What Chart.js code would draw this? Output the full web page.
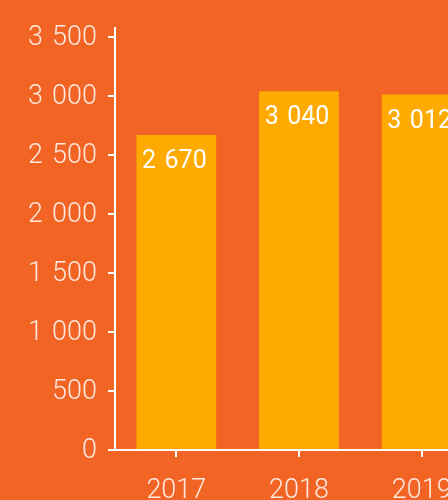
<!DOCTYPE html>
<html lang="en">
<head>
    <meta charset="UTF-8">
    <title>Bars</title>
    <script src="https://cdn.jsdelivr.net/npm/chart.js"></script>
    <style>
        body {
            margin: 0;
            padding: 0;
            background-color: #f26424;
            overflow: hidden;
        }
        #wrap {
            width: 483px;
            height: 500px;
            position: relative;
        }
    </style>
</head>
<body>
    <div id="wrap"><canvas id="grafico"></canvas></div>

    <script>
        const anos = ['2017', '2018', '2019'];
        const valores = [2670, 3040, 3012];
        const yTicks = [0, 500, 1000, 1500, 2000, 2500, 3000, 3500];
        const yMax = 3576;

        // separador de milhar: espaço de 1/3 em
        function espacos(n) {
            return String(n).replace(/\B(?=(\d{3})+(?!\d))/g, '\u2004');
        }

        // rótulos dentro do topo de cada barra
        const rotulos = {
            id: 'rotulos',
            afterDatasetsDraw(chart) {
                const ctx = chart.ctx;
                const meta = chart.getDatasetMeta(0);
                ctx.save();
                ctx.fillStyle = '#ffffff';
                ctx.font = '25px Roboto';
                ctx.textAlign = 'center';
                ctx.textBaseline = 'alphabetic';
                meta.data.forEach((bar, i) => {
                    ctx.fillText(espacos(valores[i]), bar.x - 2, bar.y + 33);
                });
                ctx.restore();
            }
        };

        const fonteEixo = { family: "'Roboto Light', Roboto", size: 27, weight: '300' };

        new Chart(document.getElementById('grafico'), {
            type: 'bar',
            data: {
                labels: anos,
                datasets: [{
                    data: valores,
                    backgroundColor: '#ffaa00',
                    categoryPercentage: 0.65,
                    barPercentage: 1
                }]
            },
            options: {
                responsive: true,
                maintainAspectRatio: false,
                animation: false,
                layout: { padding: { top: 28, right: 0, left: 0, bottom: 0 } },
                plugins: {
                    legend: { display: false },
                    tooltip: { enabled: false }
                },
                scales: {
                    x: {
                        offset: true,
                        afterFit: s => { s.height = 50; },
                        border: { color: '#ffffff', width: 2 },
                        grid: {
                            offset: false,
                            drawOnChartArea: false,
                            color: '#ffffff',
                            lineWidth: 2,
                            tickLength: 7
                        },
                        ticks: {
                            color: 'rgba(255,255,255,0.85)',
                            font: fonteEixo,
                            padding: 17
                        }
                    },
                    y: {
                        min: 0,
                        max: yMax,
                        afterFit: s => { s.width = 115; },
                        afterBuildTicks: s => {
                            s.ticks = yTicks.map(v => ({ value: v }));
                        },
                        border: { color: '#ffffff', width: 2 },
                        grid: {
                            drawOnChartArea: false,
                            color: '#ffffff',
                            lineWidth: 2,
                            tickLength: 7
                        },
                        ticks: {
                            color: 'rgba(255,255,255,0.85)',
                            font: fonteEixo,
                            padding: 11,
                            callback: v => espacos(v)
                        }
                    }
                }
            },
            plugins: [rotulos]
        });
    </script>
</body>
</html>
